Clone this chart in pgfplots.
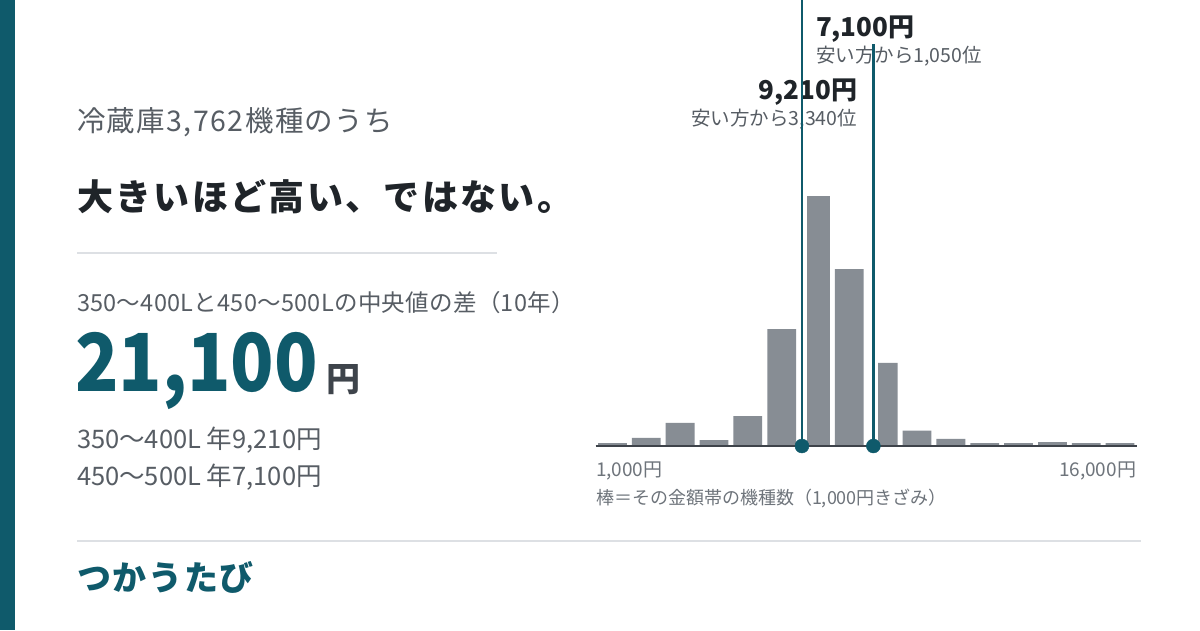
\documentclass[border=0pt]{standalone}
\usepackage{fontspec}
\setmainfont{Noto Sans CJK JP}
\usepackage{graphicx}
\usepackage{pgfplots}
\pgfplotsset{compat=1.18}
\definecolor{brand}{HTML}{0F5A6B}
\definecolor{bargray}{HTML}{878D94}
\definecolor{axisdark}{HTML}{3E434A}
\definecolor{titledark}{HTML}{1F2429}
\definecolor{textgray}{HTML}{575D64}
\definecolor{lightgray}{HTML}{6E747B}
\definecolor{rulegray}{HTML}{DDE0E4}
\definecolor{yendark}{HTML}{3E444B}
\newcommand{\fs}[1]{\fontsize{#1pt}{#1pt}\selectfont}
\begin{document}
\begin{tikzpicture}[every node/.style={inner sep=0pt, outer sep=0pt}]
\fill[white] (0,0) rectangle (1200pt,-630pt);
\path[use as bounding box] (0,0) rectangle (1200pt,-630pt);
\fill[brand] (0,0) rectangle (15pt,-630pt);

% left text block
\node[anchor=base west, text=textgray] at (77pt,-131.5pt) {\fs{28.5}\addfontfeature{LetterSpace=5}冷蔵庫3,762機種のうち};
\node[anchor=base west, text=titledark] at (77pt,-210.5pt) {\fs{36}\addfontfeature{LetterSpace=6.5}\bfseries 大きいほど高い、ではない。};
\draw[rulegray, line width=2pt] (77pt,-253pt) -- (497pt,-253pt);
\node[anchor=base west, text=textgray] at (77pt,-311.7pt) {\fs{23.5}\addfontfeature{LetterSpace=1.2}350〜400Lと450〜500Lの中央値の差（10年）};
\node[anchor=base west, text=brand] at (75pt,-391.7pt) {\scalebox{0.895}[1]{\fs{80}\bfseries 21,100}};
\node[anchor=base west, text=yendark] at (326pt,-391pt) {\fs{34}\bfseries 円};
\node[anchor=base west, text=textgray] at (77pt,-448pt) {\fs{25.5}350〜400L 年9,210円};
\node[anchor=base west, text=textgray] at (77pt,-485.5pt) {\fs{25.5}450〜500L 年7,100円};
\draw[rulegray, line width=2pt] (77pt,-541pt) -- (1141pt,-541pt);
\node[anchor=base west, text=brand] at (77pt,-590pt) {\fs{34}\addfontfeature{LetterSpace=5}\bfseries つかうたび};

% chart labels
\node[anchor=base west, text=lightgray] at (596pt,-476pt) {\fs{19}1,000円};
\node[anchor=base east, text=lightgray] at (1136pt,-476pt) {\fs{19}16,000円};
\node[anchor=base west, text=lightgray] at (596pt,-504pt) {\fs{18}棒＝その金額帯の機種数（1,000円きざみ）};
\node[anchor=base west, text=titledark] at (816pt,-36pt) {\fs{26}\bfseries 7,100円};
\node[anchor=base west, text=textgray] at (816pt,-62pt) {\fs{19.5}安い方から1,050位};
\node[anchor=base east, text=titledark] at (857pt,-99pt) {\fs{26}\bfseries 9,210円};
\node[anchor=base east, text=textgray] at (857pt,-125pt) {\fs{19.5}安い方から3,340位};

\begin{axis}[
  at={(595.5pt,-446pt)}, anchor=south west,
  scale only axis, width=541.5pt, height=446pt,
  xmin=1, xmax=17, ymin=0, ymax=2266,
  hide axis, clip=false,
]
\addplot[ybar, bar shift=0pt, bar width=0.85, fill=bargray, draw=none] coordinates {
 (1.5,15) (2.5,41) (3.5,118) (4.5,30) (5.5,152) (6.5,594) (7.5,1270) (8.5,899)
 (9.5,422) (10.5,78) (11.5,36) (12.5,15) (13.5,15) (14.5,20) (15.5,15) (16.5,15)
};
\addplot[white, line width=10pt] coordinates {(7.1,0) (7.1,1300)};
\addplot[white, line width=10pt] coordinates {(9.21,0) (9.21,1300)};
\addplot[axisdark, line width=2.2pt] coordinates {(1,0) (17,0)};
\addplot[brand, line width=2.7pt] coordinates {(7.1,0) (7.1,2266)};
\addplot[brand, line width=2.7pt] coordinates {(9.21,0) (9.21,2042)};
\addplot[only marks, mark=*, mark size=7pt, brand, mark options={draw=brand, fill=brand}] coordinates {(7.1,0) (9.21,0)};
\end{axis}
\end{tikzpicture}
\end{document}
